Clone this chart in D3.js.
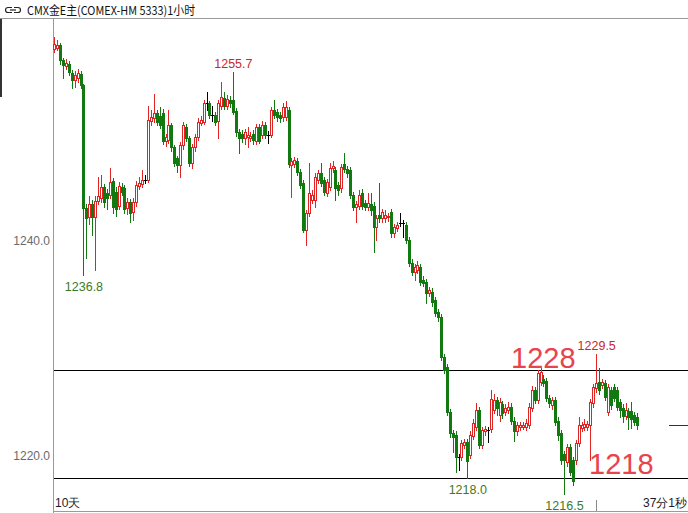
<!DOCTYPE html>
<html><head><meta charset="utf-8">
<script src="https://cdn.jsdelivr.net/npm/d3@7"></script>
<style>body{margin:0;background:#fff}svg{display:block}text{font-family:"Liberation Sans",Arial,sans-serif}</style>
</head><body><svg id="c" width="688" height="513"></svg>
<script>
const title = "CMX金E主(COMEX-HM 5333)1小时";
const opens = [
1257.9,1258.0,1258.2,1256.8,1256.3,1256.5,1255.6,1255.0,1255.2,1255.5,
1254.5,1243.1,1242.2,1243.4,1242.2,1243.7,1244.0,1245.0,1244.5,1244.3,
1245.6,1244.6,1243.3,1245.0,1244.9,1243.1,1243.6,1242.7,1243.6,1245.1,
1245.3,1245.7,1245.7,1251.2,1251.4,1251.9,1251.6,1251.9,1249.3,1249.4,
1250.8,1248.7,1247.7,1247.1,1248.9,1250.6,1249.6,1247.3,1248.7,1249.7,
1251.0,1251.1,1252.8,1252.8,1251.7,1251.7,1251.2,1252.6,1253.3,1252.6,
1253.1,1253.1,1252.1,1250.1,1250.0,1249.6,1249.7,1249.6,1250.0,1249.3,
1250.6,1249.9,1250.8,1249.9,1249.9,1252.2,1252.0,1251.7,1251.5,1251.5,
1252.2,1247.1,1247.2,1247.4,1246.4,1245.4,1241.0,1242.6,1243.8,1243.8,
1245.7,1246.3,1245.7,1244.5,1245.0,1246.8,1246.6,1245.2,1244.9,1247.2,
1246.7,1246.6,1244.3,1243.2,1243.3,1244.5,1243.5,1243.2,1243.4,1243.3,
1241.3,1242.4,1242.1,1242.1,1242.2,1242.7,1240.7,1241.2,1241.7,1241.7,
1241.5,1240.1,1238.0,1237.1,1237.3,1237.6,1236.4,1236.2,1235.2,1235.3,
1234.5,1233.4,1232.9,1229.2,1228.3,1224.1,1222.1,1222.0,1219.9,1219.9,
1221.0,1221.3,1220.1,1221.9,1222.7,1224.3,1221.0,1222.3,1222.4,1222.5,
1224.3,1225.2,1223.8,1224.8,1224.1,1224.3,1224.6,1223.3,1222.3,1222.7,
1222.7,1222.7,1222.9,1224.5,1226.1,1225.2,1226.9,1227.2,1227.0,1225.4,
1224.7,1225.2,1223.3,1222.1,1220.2,1219.4,1220.8,1219.6,1219.6,1221.2,
1222.6,1222.7,1222.7,1222.9,1224.9,1226.3,1226.9,1226.6,1226.8,1224.1,
1226.1,1226.4,1226.1,1225.0,1224.5,1223.7,1224.2,1224.2,1223.8,1223.6];
const highs = [
1259.0,1258.7,1258.4,1257.0,1256.9,1256.7,1255.9,1255.8,1256.0,1255.8,
1254.6,1243.4,1244.2,1243.8,1244.2,1246.0,1246.1,1245.3,1244.8,1246.8,
1245.9,1245.0,1245.5,1245.4,1245.2,1244.0,1243.9,1244.0,1245.6,1246.0,
1246.6,1246.1,1252.6,1252.2,1253.7,1252.2,1252.5,1252.3,1250.0,1252.2,
1251.0,1248.9,1247.9,1249.2,1251.1,1250.9,1249.8,1249.0,1250.0,1251.4,
1251.6,1253.1,1253.9,1253.0,1252.6,1252.0,1253.1,1254.8,1253.9,1253.6,
1253.5,1255.7,1252.4,1250.4,1250.3,1250.4,1250.6,1250.1,1250.3,1250.9,
1250.9,1251.2,1251.1,1250.2,1252.5,1253.1,1252.3,1252.0,1252.8,1253.0,
1252.5,1247.7,1247.8,1247.7,1246.7,1245.7,1242.9,1247.3,1244.7,1246.3,
1246.6,1247.3,1246.0,1245.8,1247.3,1247.4,1246.9,1245.5,1247.2,1248.2,
1247.0,1246.9,1244.6,1243.7,1244.7,1244.8,1243.8,1244.5,1244.5,1243.6,
1242.4,1245.4,1243.0,1242.9,1242.6,1243.0,1241.6,1241.8,1242.6,1242.0,
1241.8,1240.4,1238.3,1237.9,1238.1,1237.9,1236.7,1236.5,1235.7,1235.6,
1234.8,1233.7,1233.2,1229.5,1228.6,1224.4,1222.4,1222.3,1220.2,1221.5,
1221.6,1221.6,1222.3,1223.4,1224.9,1224.6,1222.7,1222.8,1222.7,1226.1,
1225.8,1225.5,1225.4,1225.1,1224.8,1225.0,1224.9,1223.6,1223.2,1223.2,
1223.2,1223.4,1224.9,1226.5,1226.4,1228.0,1228.2,1227.5,1227.3,1225.7,
1225.5,1225.5,1223.6,1222.4,1220.5,1221.1,1221.1,1219.9,1221.5,1223.6,
1223.2,1223.4,1223.3,1225.3,1226.7,1229.5,1228.2,1227.2,1227.1,1226.7,
1226.4,1226.7,1226.4,1225.3,1224.8,1224.9,1224.5,1225.0,1224.1,1224.0];
const lows = [
1257.6,1257.8,1256.5,1255.2,1256.0,1255.4,1254.2,1254.3,1254.8,1254.2,
1236.8,1238.4,1241.6,1240.6,1237.3,1243.4,1243.6,1243.2,1243.0,1244.0,
1242.6,1242.3,1243.0,1244.3,1242.6,1242.5,1241.8,1242.0,1243.3,1244.8,
1245.0,1245.4,1245.5,1250.8,1251.1,1250.8,1250.5,1249.0,1248.8,1249.1,
1248.4,1247.0,1246.4,1246.0,1248.6,1249.3,1247.0,1246.8,1248.4,1249.4,
1250.8,1250.9,1252.2,1251.4,1251.2,1250.8,1249.6,1252.3,1252.3,1252.3,
1252.5,1251.8,1249.8,1248.2,1249.2,1249.0,1248.7,1249.3,1249.0,1249.0,
1249.1,1249.6,1249.6,1249.1,1249.7,1251.4,1251.2,1251.1,1251.2,1251.3,
1246.9,1244.1,1246.9,1246.1,1244.9,1240.8,1239.6,1242.3,1243.5,1243.2,
1245.4,1245.1,1244.3,1244.2,1244.7,1246.4,1243.8,1244.3,1244.6,1246.4,
1246.0,1244.0,1242.9,1241.8,1243.0,1243.0,1242.9,1242.9,1242.4,1239.0,
1240.1,1241.8,1241.8,1241.8,1241.9,1240.4,1240.4,1240.9,1241.4,1240.4,
1239.8,1237.7,1236.8,1236.4,1237.0,1235.9,1235.8,1234.2,1234.9,1234.0,
1233.0,1232.6,1228.9,1227.7,1223.8,1221.8,1220.4,1218.5,1218.7,1219.6,
1220.7,1218.0,1219.8,1221.6,1222.4,1220.7,1220.7,1222.0,1221.3,1222.2,
1224.0,1223.8,1223.3,1223.5,1223.8,1224.0,1223.0,1221.4,1222.0,1222.4,
1222.5,1222.4,1222.6,1224.2,1224.9,1224.9,1226.6,1226.5,1225.1,1224.6,
1224.4,1222.9,1221.5,1219.3,1216.5,1219.1,1218.2,1217.3,1219.3,1220.9,
1222.3,1222.4,1222.4,1219.6,1224.6,1226.0,1225.8,1226.3,1225.2,1223.8,
1224.4,1225.1,1224.3,1223.6,1223.2,1223.4,1222.5,1222.6,1222.9,1222.5];
const closes = [
1258.3,1258.2,1256.8,1256.4,1256.6,1255.7,1255.0,1255.4,1255.6,1254.5,
1243.1,1242.1,1243.4,1242.2,1243.7,1244.2,1245.0,1243.6,1244.0,1245.5,
1243.2,1243.0,1245.1,1244.6,1243.0,1243.6,1242.6,1243.6,1245.2,1245.4,
1245.7,1245.7,1251.3,1251.5,1251.9,1251.1,1250.8,1249.3,1249.7,1250.8,
1248.7,1247.3,1247.1,1248.9,1250.8,1249.6,1247.3,1248.7,1249.7,1251.1,
1251.3,1252.8,1252.8,1251.7,1251.7,1251.1,1252.8,1253.4,1252.6,1253.2,
1252.8,1252.0,1250.1,1249.6,1249.6,1250.1,1249.9,1249.8,1249.4,1250.6,
1249.3,1250.8,1249.9,1249.9,1252.2,1251.7,1251.5,1251.4,1252.5,1252.5,
1247.2,1247.4,1247.5,1246.4,1245.2,1241.0,1242.6,1244.5,1244.3,1246.0,
1246.3,1245.4,1244.6,1245.5,1246.8,1247.0,1244.9,1244.7,1246.9,1246.7,
1246.3,1244.3,1243.2,1243.4,1244.3,1243.3,1243.2,1243.5,1242.9,1241.3,
1242.1,1242.1,1242.7,1242.4,1242.3,1240.7,1241.3,1241.5,1241.7,1241.7,
1240.1,1238.0,1237.1,1237.6,1237.8,1236.2,1236.1,1235.2,1235.4,1234.3,
1233.3,1232.9,1229.2,1228.0,1224.1,1222.1,1221.8,1219.9,1219.9,1221.2,
1221.3,1219.5,1222.0,1223.1,1224.3,1221.0,1222.4,1222.5,1222.4,1225.3,
1225.2,1224.5,1225.0,1224.0,1224.5,1224.6,1223.3,1222.3,1222.9,1222.9,
1222.9,1223.1,1224.6,1226.1,1225.2,1227.7,1227.8,1226.8,1225.4,1224.9,
1225.2,1223.2,1222.0,1219.6,1219.6,1220.8,1218.5,1217.7,1221.2,1222.9,
1222.9,1223.0,1223.0,1225.0,1226.4,1226.8,1226.1,1226.9,1225.5,1226.4,
1224.7,1225.4,1224.6,1224.3,1223.7,1224.3,1223.6,1223.4,1223.2,1222.9];
const yTicks = [1220, 1240];
const levels = [1228, 1218];
const levelLabels = ["1228", "1218"];
const markIdx = [10, 61, 141, 174, 185];
const markVal = [1236.8, 1255.7, 1218.0, 1216.5, 1229.5];
const markHigh = [false, true, false, false, true];
const bottomLeft = "10天";
const bottomRight = "37分1秒";

const svg = d3.select("#c");
const n = closes.length;
const x = d3.scaleBand().domain(d3.range(n)).range([53.2, 639.2]).padding(0);
const y = d3.scaleLinear().domain([1220, 1240]).range([456, 241]);
const RED = "#e02323", GREEN = "#11790f";

svg.append("rect").attr("width",688).attr("height",513).attr("fill","#fff");

// frame
svg.append("line").attr("x1",0).attr("x2",688).attr("y1",18.5).attr("y2",18.5).attr("stroke","#9a9a9a");
svg.append("line").attr("x1",53.5).attr("x2",53.5).attr("y1",19).attr("y2",513).attr("stroke","#9a9a9a");
svg.append("line").attr("x1",53).attr("x2",688).attr("y1",511.5).attr("y2",511.5).attr("stroke","#9a9a9a");
svg.append("rect").attr("x",0).attr("y",19).attr("width",2).attr("height",78).attr("fill","#333");

// title
const ic = svg.append("g").attr("fill","none").attr("stroke","#222").attr("stroke-width",1.2);
ic.append("path").attr("d","M12,7.5 H8 A2.5,2.5 0 0 0 8,12.5 H12");
ic.append("path").attr("d","M14,7.5 H18 A2.5,2.5 0 0 1 18,12.5 H14");
ic.append("line").attr("x1",10).attr("x2",16).attr("y1",10).attr("y2",10);
svg.append("text").attr("x",27).attr("y",15).attr("font-size",12)
  .style("font-family","'Noto Sans CJK SC','DejaVu Sans',sans-serif")
  .attr("textLength",168).attr("lengthAdjust","spacingAndGlyphs").attr("fill","#111").text(title);

// y axis
const ax = svg.append("g").attr("transform","translate(50,0)")
  .call(d3.axisLeft(y).tickValues(yTicks).tickFormat(d3.format(".1f")).tickSize(0).tickPadding(0));
ax.select(".domain").remove();
ax.selectAll("text").attr("fill","#6a6a6a").attr("font-size",12).style("font-family","'Liberation Sans',Arial,sans-serif");

// level lines
levels.forEach((v,k)=>{
  const yy = Math.round(y(v)) + 0.5;
  svg.append("line").attr("x1",54).attr("x2",688).attr("y1",yy).attr("y2",yy).attr("stroke","#000");
});

// candles
const cg = svg.append("g");
for (let i=0;i<n;i++){
  const px = Math.floor(x(i) + x.bandwidth()/2);
  const o=opens[i], c=closes[i], h=highs[i], l=lows[i];
  const col = c>o ? RED : (c<o ? GREEN : "#000");
  cg.append("line").attr("x1",px+0.5).attr("x2",px+0.5)
    .attr("y1",Math.round(y(h))).attr("y2",Math.round(y(l))+1).attr("stroke",col);
  const yt = Math.round(y(Math.max(o,c))), yb = Math.round(y(Math.min(o,c)));
  if (c>o){
    cg.append("rect").attr("x",px-0.5).attr("y",yt+0.5).attr("width",2).attr("height",Math.max(1,yb-yt))
      .attr("fill","#fff").attr("stroke",RED);
  } else if (c<o){
    cg.append("rect").attr("x",px-1).attr("y",yt).attr("width",3).attr("height",Math.max(1,yb-yt+1)).attr("fill",GREEN);
  } else {
    cg.append("rect").attr("x",px-1).attr("y",yt).attr("width",3).attr("height",1).attr("fill","#000");
  }
}

// high/low marks
markIdx.forEach((idx,k)=>{
  const cx = x(idx) + x.bandwidth()/2;
  const hi = markHigh[k];
  svg.append("text").attr("x",cx).attr("y", hi ? y(markVal[k]) - 4 : y(markVal[k]) + 16)
    .attr("text-anchor","middle").attr("font-size",12.5)
    .attr("fill", hi ? "#c8282d" : "#3b7b27").text(markVal[k].toFixed(1));
});

// level labels
svg.append("text").attr("x",511).attr("y",Math.round(y(levels[0]))-2).attr("font-size",29)
  .attr("fill","#e8444c").text(levelLabels[0]);
svg.append("text").attr("x",589).attr("y",Math.round(y(levels[1]))-4).attr("font-size",29)
  .attr("fill","#e8444c").text(levelLabels[1]);

// current price marker
const yl = Math.round(y(closes[n-1])) + 0.5;
svg.append("line").attr("x1",669).attr("x2",688).attr("y1",yl).attr("y2",yl).attr("stroke","#333");

// bottom texts
svg.append("text").attr("x",55).attr("y",507).attr("font-size",12).attr("fill","#1a1a2a").text(bottomLeft);
svg.append("text").attr("x",687).attr("y",507).attr("text-anchor","end").attr("font-size",12).attr("fill","#1a1a2a").text(bottomRight);
svg.append("line").attr("x1",596.5).attr("x2",596.5).attr("y1",500).attr("y2",511).attr("stroke","#888");
</script></body></html>
